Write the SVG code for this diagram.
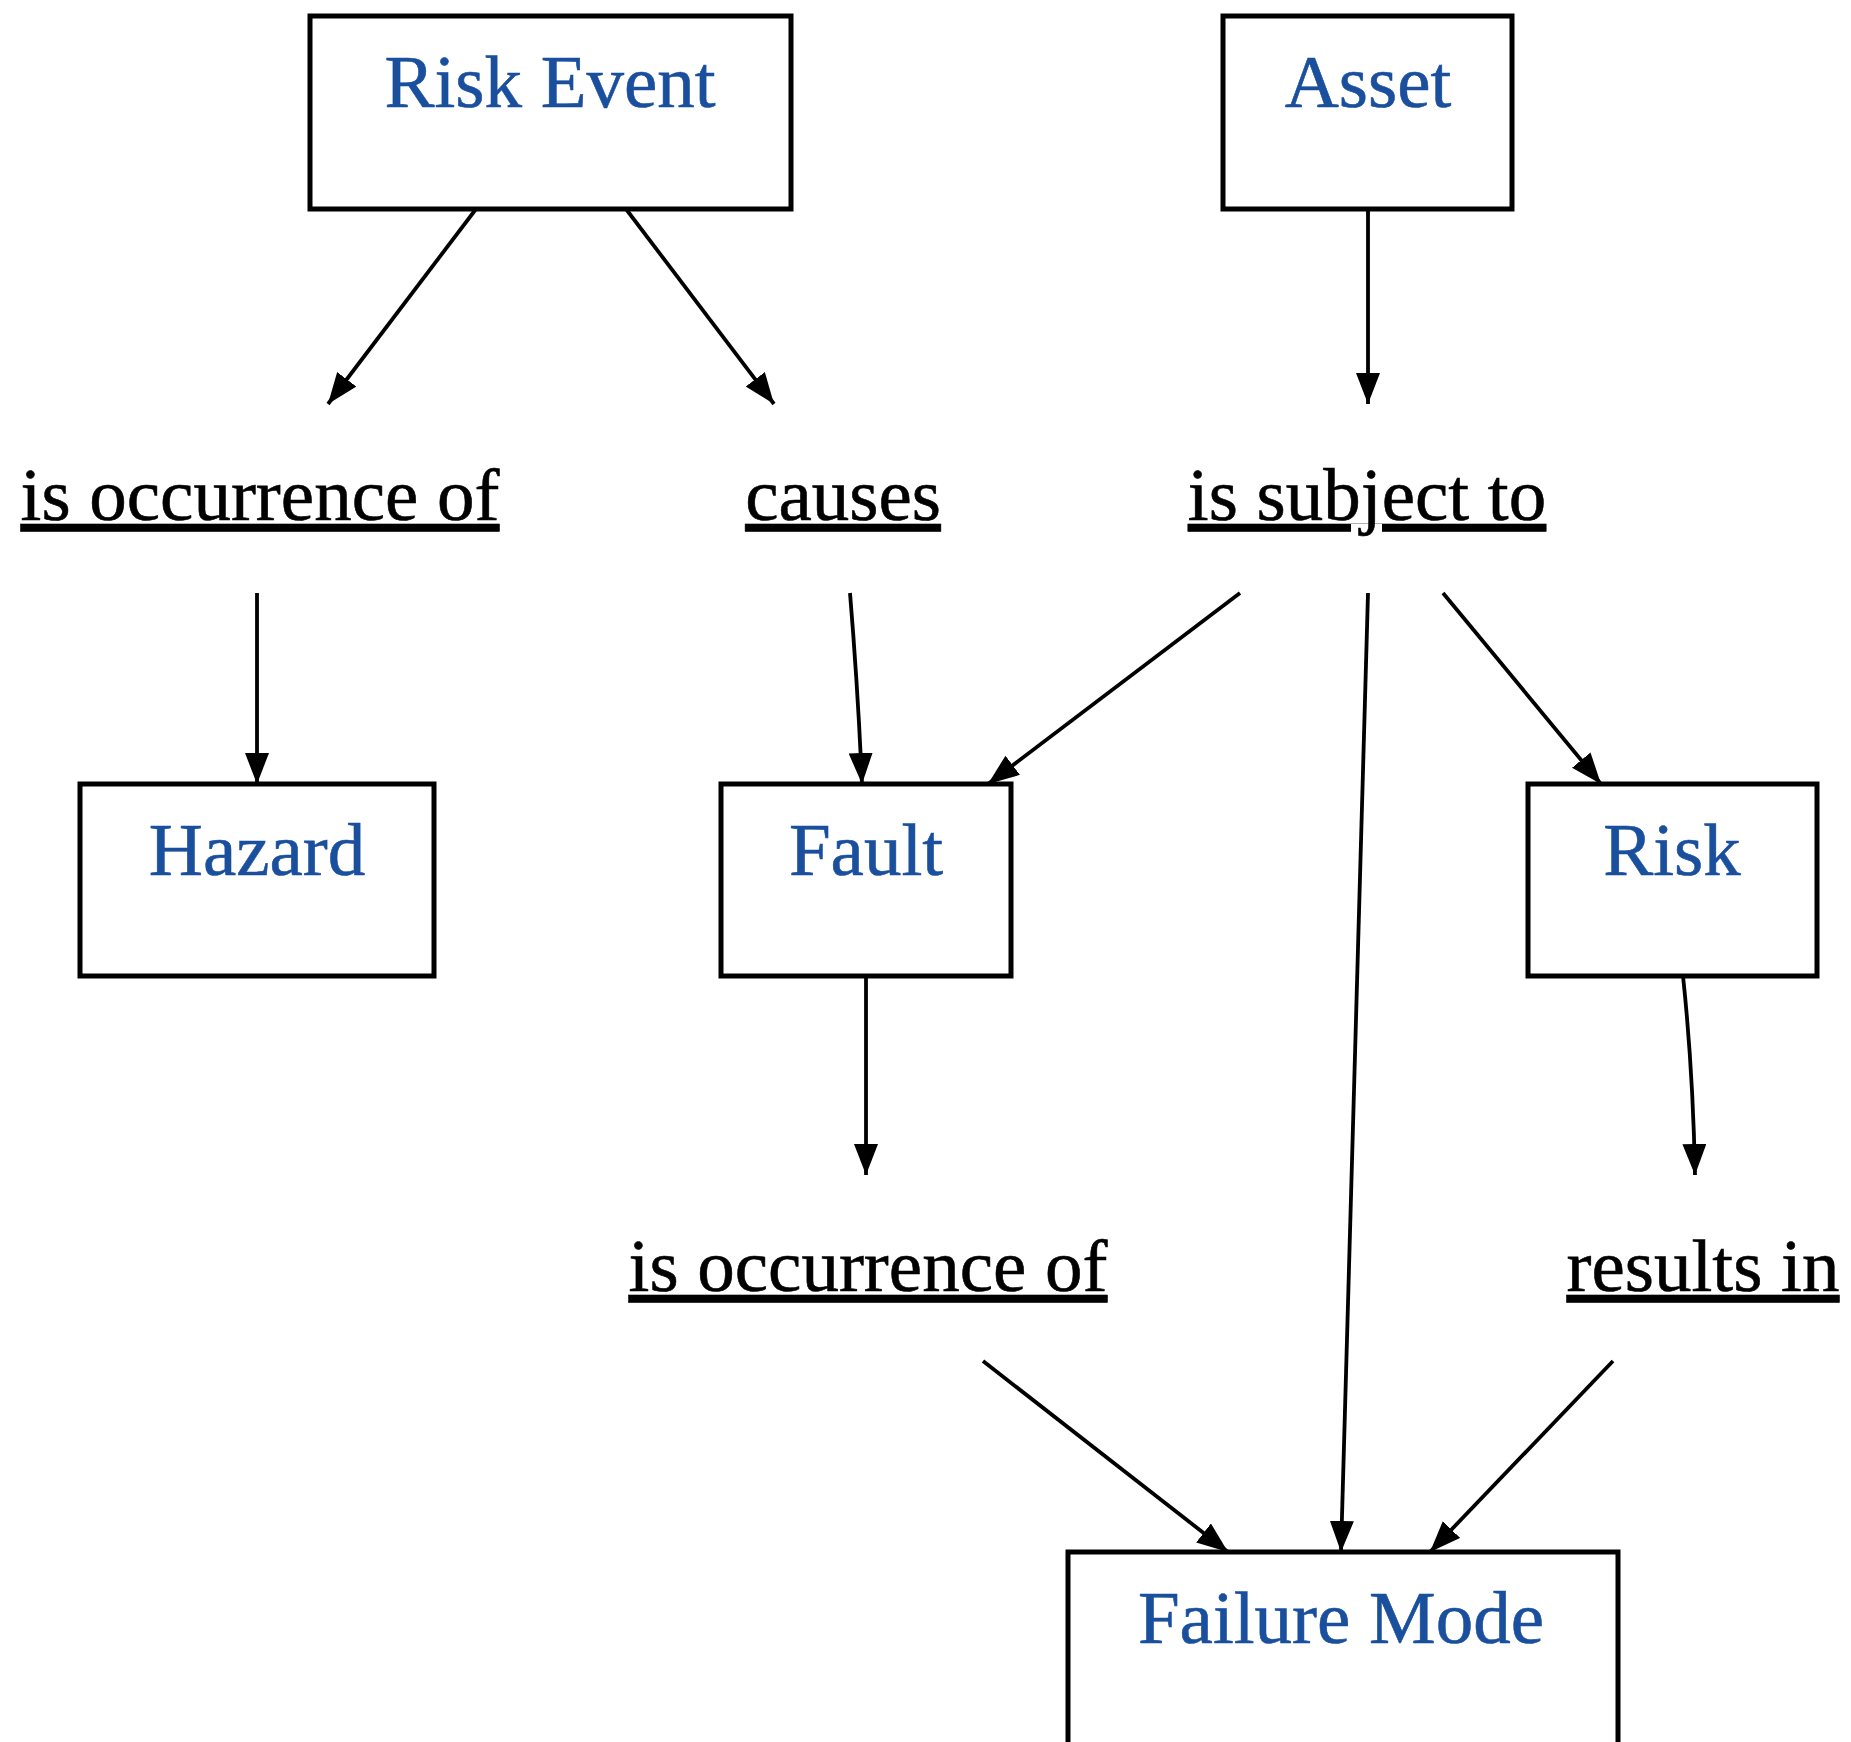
<svg xmlns="http://www.w3.org/2000/svg" width="1851" height="1742" viewBox="0 0 1851 1742">
  <style>
    .box { fill: #ffffff; stroke: #000000; stroke-width: 5; }
    .node-text { font-family: "Liberation Serif", "Times New Roman", serif; font-size: 75px; fill: #1a4f9e; text-anchor: middle; stroke: #1a4f9e; stroke-width: 0.6; }
    .label { font-family: "Liberation Serif", "Times New Roman", serif; font-size: 75px; fill: #000000; text-anchor: middle; text-decoration: underline; stroke: #000000; stroke-width: 0.6; }
    .edge { fill: none; stroke: #000000; stroke-width: 3.8; }
  </style>
  <defs>
    <marker id="arrow" markerUnits="userSpaceOnUse" markerWidth="34" markerHeight="26" refX="31" refY="12" orient="auto">
      <path d="M0,0 L31,12 L0,24 z" fill="#000000"/>
    </marker>
  </defs>

  <rect width="1851" height="1742" fill="#ffffff"/>

  <!-- connectors -->
  <g id="connectors">
    <line class="edge" x1="476" y1="209" x2="328" y2="404" marker-end="url(#arrow)"/>
    <line class="edge" x1="626" y1="209" x2="774" y2="404" marker-end="url(#arrow)"/>
    <line class="edge" x1="1368" y1="209" x2="1368" y2="404" marker-end="url(#arrow)"/>
    <line class="edge" x1="257" y1="593" x2="257" y2="784" marker-end="url(#arrow)"/>
    <path class="edge" d="M850,593 Q858,690 862,784" marker-end="url(#arrow)"/>
    <line class="edge" x1="1240" y1="593" x2="988" y2="784" marker-end="url(#arrow)"/>
    <line class="edge" x1="1368" y1="593" x2="1341" y2="1552" marker-end="url(#arrow)"/>
    <line class="edge" x1="1443" y1="593" x2="1601" y2="784" marker-end="url(#arrow)"/>
    <line class="edge" x1="866" y1="976" x2="866" y2="1175" marker-end="url(#arrow)"/>
    <path class="edge" d="M1683,976 Q1693,1070 1695,1175" marker-end="url(#arrow)"/>
    <line class="edge" x1="983" y1="1361" x2="1228" y2="1552" marker-end="url(#arrow)"/>
    <line class="edge" x1="1613" y1="1361" x2="1430" y2="1552" marker-end="url(#arrow)"/>
  </g>

  <!-- concept nodes -->
  <g id="risk-event">
    <rect class="box" x="310" y="16" width="481" height="193"/>
    <text class="node-text" x="550" y="107">Risk Event</text>
  </g>
  <g id="asset">
    <rect class="box" x="1223" y="16" width="289" height="193"/>
    <text class="node-text" x="1368" y="107">Asset</text>
  </g>
  <g id="hazard">
    <rect class="box" x="80" y="784" width="354" height="192"/>
    <text class="node-text" x="257" y="875">Hazard</text>
  </g>
  <g id="fault">
    <rect class="box" x="721" y="784" width="290" height="192"/>
    <text class="node-text" x="866" y="875">Fault</text>
  </g>
  <g id="risk">
    <rect class="box" x="1528" y="784" width="289" height="192"/>
    <text class="node-text" x="1672" y="875">Risk</text>
  </g>
  <g id="failure-mode">
    <rect class="box" x="1068" y="1552" width="550" height="220"/>
    <text class="node-text" x="1341" y="1643">Failure Mode</text>
  </g>

  <!-- relation labels -->
  <g id="label-occurrence-1">
    <text class="label" x="260" y="520">is occurrence of</text>
  </g>
  <g id="label-causes">
    <text class="label" x="843" y="520">causes</text>
  </g>
  <g id="label-subject">
    <text class="label" x="1367" y="520">is subject to</text>
  </g>
  <g id="label-occurrence-2">
    <text class="label" x="868" y="1291">is occurrence of</text>
  </g>
  <g id="label-results">
    <text class="label" x="1703" y="1291">results in</text>
  </g>
</svg>
